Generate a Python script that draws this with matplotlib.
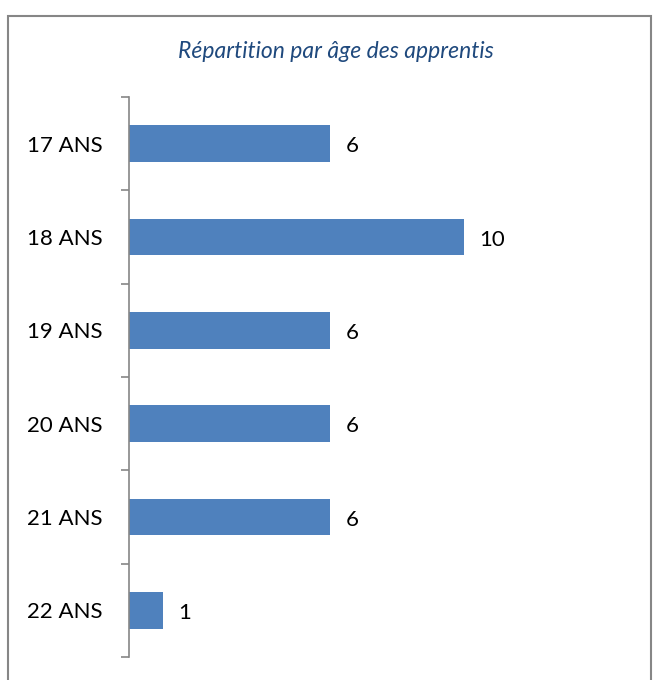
import matplotlib.pyplot as plt
from matplotlib.patches import Rectangle

ages = ["17 ANS", "18 ANS", "19 ANS", "20 ANS", "21 ANS", "22 ANS"]
effectifs = [6, 10, 6, 6, 6, 1]

plt.rcParams['font.family'] = ['Lato', 'DejaVu Sans']

fig = plt.figure(figsize=(6.53, 6.8), dpi=100)
ax = fig.add_axes([129/653, 1-657/680, 469/653, (657-97)/680])

pos = list(range(len(ages)))
ax.barh(pos, effectifs, height=0.39, color="#4F81BD")
ax.set_xlim(0, 14)
ax.set_ylim(len(ages)-0.5, -0.5)

for p, v in zip(pos, effectifs):
    ax.annotate(str(v), (v, p), xytext=(11, -2), textcoords="offset points",
                va="center", ha="left", fontsize=16)

ax.set_yticks(pos)
ax.set_yticklabels(ages, fontsize=16)
ax.tick_params(axis="y", which="major", length=0, pad=19)
ax.set_yticks([p - 0.5 for p in pos] + [len(ages) - 0.5], minor=True)
ax.tick_params(axis="y", which="minor", length=6, width=1.2, color="#868686", direction="out")
ax.set_xticks([])
for s in ["top", "right", "bottom"]:
    ax.spines[s].set_visible(False)
ax.spines["left"].set_color("#868686")
ax.spines["left"].set_linewidth(1.2)

fig.text(336/653, 1-52/680, "Répartition par âge des apprentis", ha="center", va="center",
         style="italic", fontsize=16.5, color="#1F497D")

fig.patches.append(Rectangle((8/653, -0.05), 643/653, 1.05 - 16/680,
                             transform=fig.transFigure, fill=False,
                             edgecolor="#868686", linewidth=1.5))

fig.savefig("out.png", dpi=100)
